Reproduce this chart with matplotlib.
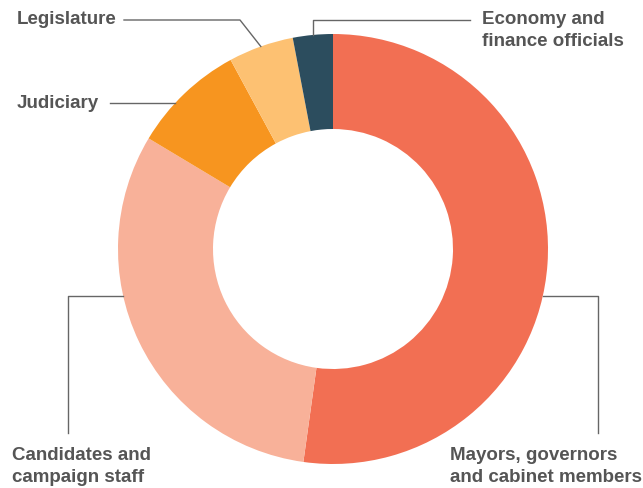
import numpy as np
import matplotlib
matplotlib.use('Agg')
import matplotlib.pyplot as plt

# ── Data ────────────────────────────────────────────────────────────────
labels = ['Mayors, governors\nand cabinet members', 'Candidates and\ncampaign staff',
          'Judiciary', 'Legislature', 'Economy and\nfinance officials']
shares = [52.2, 31.4, 8.5, 4.9, 3.0]
colors = ['#F26F53', '#F8B199', '#F7951F', '#FDC172', '#2C4D5E']
# ────────────────────────────────────────────────────────────────────────

W, H   = 643, 488
CX, CY = 333, H - 249
R_OUT  = 215
R_IN   = 120
TXT    = '#555555'
LINE   = '#666666'

fig = plt.figure(figsize=(W / 100, H / 100), dpi=100)
ax = fig.add_axes([0, 0, 1, 1])

ax.pie(shares, colors=colors, startangle=90, counterclock=False,
       center=(CX, CY), radius=R_OUT,
       wedgeprops=dict(width=R_OUT - R_IN, linewidth=0))
ax.set_xlim(0, W)
ax.set_ylim(0, H)
ax.set_aspect('equal')
ax.axis('off')

# wedge mid angles (degrees clockwise from top)
bounds = np.concatenate([[0], np.cumsum(shares)]) / 100 * 360
mids = (bounds[:-1] + bounds[1:]) / 2


def edge_pt(angle_deg, r=R_OUT):
    a = np.radians(angle_deg)
    return CX + r * np.sin(a), CY + r * np.cos(a)


def edge_x_at(y_px, side):
    dy = (H - y_px) - CY
    return CX + side * np.sqrt(R_OUT ** 2 - dy ** 2)


def py(y):
    return H - y


font = dict(family=['Liberation Sans', 'DejaVu Sans'], fontsize=13.5,
            fontweight='bold', color=TXT, linespacing=1.36)
lw = 1.0

# Mayors (right, bottom)
x0 = edge_x_at(296, 1)
ax.plot([x0, 598, 598], [py(296), py(296), py(433)], color=LINE, lw=lw)
ax.text(450, py(447), labels[0], ha='left', va='top', **font)

# Candidates (left, bottom)
x0 = edge_x_at(296, -1)
ax.plot([x0, 68, 68], [py(296), py(296), py(433)], color=LINE, lw=lw)
ax.text(12, py(447), labels[1], ha='left', va='top', **font)

# Judiciary
x0 = edge_x_at(103, -1)
ax.plot([x0, 110], [py(103), py(103)], color=LINE, lw=lw)
ax.text(17, py(103), labels[2], ha='left', va='center', **font)

# Legislature
ex, ey = edge_pt(mids[3])
ax.plot([ex, 240, 124], [ey, py(20), py(20)], color=LINE, lw=lw)
ax.text(17, py(20), labels[3], ha='left', va='center', **font)

# Economy and finance officials
ex, ey = edge_pt(mids[4])
ax.plot([ex, ex, 470], [ey, py(20), py(20)], color=LINE, lw=lw)
ax.text(482, py(11), labels[4], ha='left', va='top', **font)

fig.savefig('out.png', dpi=100, facecolor='white')
